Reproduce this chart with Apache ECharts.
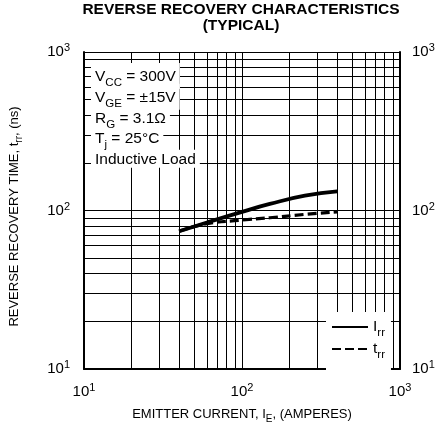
<!DOCTYPE html>
<html><head><meta charset="utf-8">
<script src="https://cdn.jsdelivr.net/npm/echarts@6/dist/echarts.min.js"></script>
<style>html,body{margin:0;padding:0;background:#fff}#c{width:440px;height:429px}</style>
</head><body><div id="c"></div>
<script>
// Data
const emitterCurrent = [40, 60, 100, 150, 250, 400];           // I_E (A)
const irrValues = [74, 84, 98, 110, 124, 132];                 // I_rr (A)
const trrValues = [74, 82.5, 87, 90, 94.5, 98];                // t_rr (ns)
const axisMin = 10, axisMax = 1000;
const minorGridValues = [20, 30, 40, 50, 60, 70, 80, 90, 200, 300, 400, 500, 600, 700, 800, 900];
const titleLines = 'REVERSE RECOVERY CHARACTERISTICS\n(TYPICAL)';
const conditionLines = [
  ['V', 'CC', ' = 300V'],
  ['V', 'GE', ' = ±15V'],
  ['R', 'G', ' = 3.1Ω'],
  ['T', 'j', ' = 25°C'],
  ['Inductive Load', '', '']
];

const FF = '"Liberation Sans", Arial, Helvetica, sans-serif';
const chart = echarts.init(document.getElementById('c'), null, {renderer: 'canvas'});

const tickRich = {
  b: {fontSize: 15, fontFamily: FF, color: '#000'},
  e: {fontSize: 11, fontFamily: FF, color: '#000', padding: [0, 0, 8, 0]}
};
function powLabel(v) {
  return '{b|10}{e|' + Math.round(Math.log10(v)) + '}';
}
const nameRich = {
  m: {fontSize: 13, fontFamily: FF, color: '#000'},
  s: {fontSize: 10, fontFamily: FF, color: '#000', padding: [9, 0, 0, 0]}
};

const gridLineData = [];
minorGridValues.forEach(v => { gridLineData.push({xAxis: v}); gridLineData.push({yAxis: v}); });

const graphics = [{
  type: 'text', x: 241, y: 2, z: 100,
  style: {text: titleLines, textAlign: 'center', fontSize: 15.5, fontWeight: 'bold',
          fontFamily: FF, fill: '#000', lineHeight: 16}
}];
conditionLines.forEach((c, i) => {
  const txt = c[1] ? '{m|' + c[0] + '}{s|' + c[1] + '}{m|' + c[2] + '}' : '{m|' + c[0] + '}';
  graphics.push({
    type: 'text', x: 91, y: 76 + i * 20.7, z: 100 - i,
    style: {
      text: txt, verticalAlign: 'middle',
      backgroundColor: '#fff', padding: [2, 4, 0, 4],
      rich: {
        m: {fontSize: 15.5, fontFamily: FF, fill: '#000', color: '#000'},
        s: {fontSize: 11.5, fontFamily: FF, fill: '#000', color: '#000', padding: [12, 0, 0, 0]}
      }
    }
  });
});

const option = {
  animation: false,
  backgroundColor: '#fff',
  grid: {left: 81, right: 40, top: 52, bottom: 57, containLabel: false},
  graphic: graphics,
  legend: {
    orient: 'vertical', left: 326, top: 312, z: 100,
    backgroundColor: '#fff', padding: [7, 6, 10, 5],
    itemWidth: 36, itemHeight: 16, itemGap: 2,
    itemStyle: {color: 'transparent', borderWidth: 0},
    data: ['Irr', 'trr'],
    formatter: n => n === 'Irr' ? '{m|I}{s|rr}' : '{m|t}{s|rr}',
    textStyle: {
      rich: {
        m: {fontSize: 15.5, fontFamily: FF, color: '#000'},
        s: {fontSize: 11.5, fontFamily: FF, color: '#000', padding: [12, 0, 0, 0]}
      }
    }
  },
  xAxis: {
    type: 'log', logBase: 10, min: axisMin, max: axisMax,
    name: '{m|EMITTER CURRENT, I}{s|E}{m|, (AMPERES)}',
    nameLocation: 'middle', nameGap: 36,
    nameTextStyle: {rich: nameRich},
    axisLine: {show: true, lineStyle: {color: '#000', width: 2}},
    axisTick: {show: false},
    axisLabel: {formatter: powLabel, rich: tickRich, margin: 13},
    splitLine: {show: true, lineStyle: {color: '#000', width: 1}}
  },
  yAxis: [{
    type: 'log', logBase: 10, min: axisMin, max: axisMax,
    name: '{m|REVERSE RECOVERY TIME, t}{s|rr}{m|, (ns)}',
    nameLocation: 'middle', nameGap: 60,
    nameTextStyle: {rich: nameRich, padding: [0, 12, 0, 0]},
    axisLine: {show: true, lineStyle: {color: '#000', width: 2}},
    axisTick: {show: false},
    axisLabel: {formatter: powLabel, rich: tickRich, margin: 14},
    splitLine: {show: true, lineStyle: {color: '#000', width: 1}}
  }, {
    type: 'log', logBase: 10, min: axisMin, max: axisMax, position: 'right',
    axisLine: {show: true, lineStyle: {color: '#000', width: 2}},
    axisTick: {show: false},
    axisLabel: {formatter: powLabel, rich: tickRich, margin: 12},
    splitLine: {show: false}
  }],
  series: [{
    type: 'line', name: 'grid', data: [[axisMin, axisMin]], symbol: 'none', silent: true,
    lineStyle: {width: 0}, z: 1,
    markLine: {
      silent: true, symbol: ['none', 'none'], animation: false,
      label: {show: false},
      lineStyle: {color: '#000', width: 1, type: 'solid'},
      emphasis: {disabled: true},
      data: gridLineData
    }
  }, {
    type: 'line', name: 'Irr', yAxisIndex: 0, smooth: 0.5, symbol: 'none', z: 5,
    data: emitterCurrent.map((x, i) => [x, irrValues[i]]),
    lineStyle: {color: '#000', width: 3.8, type: 'solid'}, itemStyle: {color: '#000'}
  }, {
    type: 'line', name: 'trr', yAxisIndex: 0, smooth: 0.5, symbol: 'none', z: 4,
    data: emitterCurrent.map((x, i) => [x, trrValues[i]]),
    lineStyle: {color: '#000', width: 3.2, type: [9, 4]}, itemStyle: {color: '#000'}
  }]
};
chart.setOption(option);
</script>
</body></html>
